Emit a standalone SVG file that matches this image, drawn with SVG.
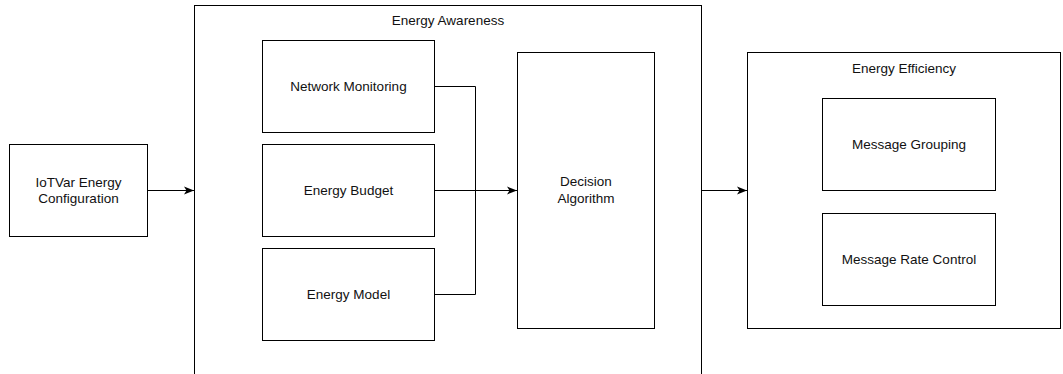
<svg xmlns="http://www.w3.org/2000/svg" width="1063" height="374" viewBox="0 0 1063 374">
<style>
.box{fill:#fff;stroke:#000;stroke-width:1}
.lbl{font-family:"Liberation Sans",Arial,sans-serif;font-size:13.5px;fill:#111;text-anchor:middle}
.conn{fill:none;stroke:#000;stroke-width:1}
</style>
<defs>
<marker id="arr" viewBox="0 0 10 10" refX="10" refY="5" markerWidth="10" markerHeight="10" markerUnits="userSpaceOnUse" orient="auto">
<path d="M0,1 L10,5 L0,9 L2.5,5 Z" fill="#000"/>
</marker>
</defs>
<rect width="1063" height="374" fill="#fff"/>
<g id="energy-awareness">
<rect class="box" x="194.5" y="5.5" width="507" height="380"/>
<text class="lbl" x="448" y="25">Energy Awareness</text>
</g>
<g id="energy-efficiency">
<rect class="box" x="747.5" y="52.5" width="313" height="276"/>
<text class="lbl" x="904" y="73">Energy Efficiency</text>
</g>
<g id="iotvar">
<rect class="box" x="9.5" y="144.5" width="138" height="92"/>
<text class="lbl" x="78.5" y="187">IoTVar Energy</text>
<text class="lbl" x="78.5" y="203">Configuration</text>
</g>
<g id="network-monitoring">
<rect class="box" x="262.5" y="40.5" width="172" height="92"/>
<text class="lbl" x="348.5" y="91">Network Monitoring</text>
</g>
<g id="energy-budget">
<rect class="box" x="262.5" y="144.5" width="172" height="92"/>
<text class="lbl" x="348.5" y="195">Energy Budget</text>
</g>
<g id="energy-model">
<rect class="box" x="262.5" y="248.5" width="172" height="92"/>
<text class="lbl" x="348.5" y="299">Energy Model</text>
</g>
<g id="decision-algorithm">
<rect class="box" x="517.5" y="52.5" width="137" height="276"/>
<text class="lbl" x="586" y="186">Decision</text>
<text class="lbl" x="586" y="203">Algorithm</text>
</g>
<g id="message-grouping">
<rect class="box" x="822.5" y="98.5" width="173" height="92"/>
<text class="lbl" x="909" y="149">Message Grouping</text>
</g>
<g id="message-rate-control">
<rect class="box" x="822.5" y="213.5" width="173" height="92"/>
<text class="lbl" x="909" y="264">Message Rate Control</text>
</g>
<g id="connectors">
<path class="conn" d="M148,190.5 H194" marker-end="url(#arr)"/>
<path class="conn" d="M435,86.5 H475.5 V294.5 H435"/>
<path class="conn" d="M435,190.5 H517" marker-end="url(#arr)"/>
<path class="conn" d="M702,190.5 H747" marker-end="url(#arr)"/>
</g>
</svg>
